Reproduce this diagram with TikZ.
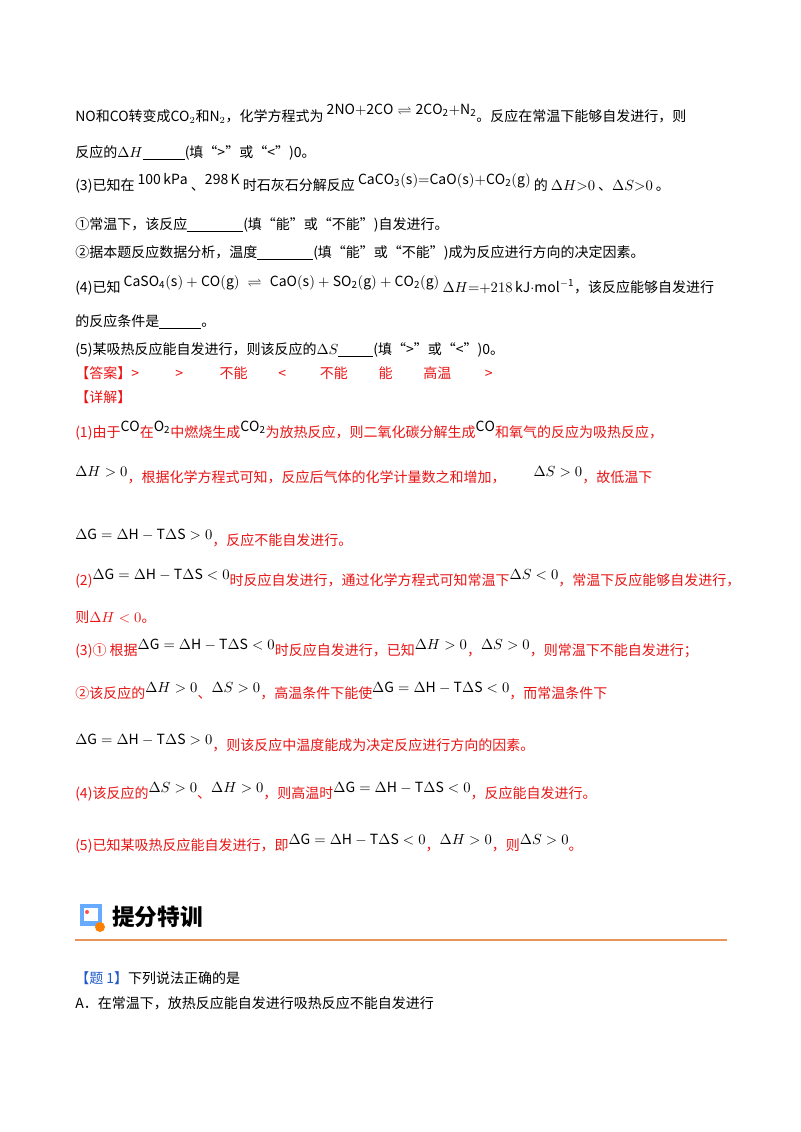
\documentclass[tikz,border=0pt]{standalone}
\usepackage{amsmath,amssymb}
\usepackage{fontspec}
\setmainfont{Noto Sans CJK SC}
\definecolor{ans}{RGB}{232,20,20}
\definecolor{hl}{RGB}{230,150,90}
\definecolor{tb}{RGB}{30,90,200}
\begin{document}
\begin{tikzpicture}[x=0.75pt,y=-0.75pt,
  t/.style={anchor=base west,inner sep=0pt,font=\fontsize{10.5}{12}\selectfont},
  r/.style={t,text=ans}]
\useasboundingbox (0,0) rectangle (800,1132);
\node[t] (l1) at (75,121) {NO和CO转变成CO$_2$和N$_2$，化学方程式为 \raisebox{5pt}{$\mathrm{2NO{+}2CO}\rightleftharpoons\mathrm{2CO_2{+}N_2}$}。反应在常温下能够自发进行，则};
\node[t] (l2) at (75,157) {反应的$\Delta H$\underline{\hspace{3em}}(填“>”或“<”)0。};
\node[t] (l3) at (75,190) {(3)已知在 \raisebox{4pt}{$\mathrm{100\,kPa}$}\ 、\raisebox{4pt}{$\mathrm{298\,K}$} 时石灰石分解反应 \raisebox{4pt}{$\mathrm{CaCO_3(s){=}CaO(s){+}CO_2(g)}$} 的 $\Delta H{>}0$ 、$\Delta S{>}0$ 。};
\node[t] (l4) at (75,229) {①常温下，该反应\underline{\hspace{4em}}(填“能”或“不能”)自发进行。};
\node[t] (l5) at (75,257) {②据本题反应数据分析，温度\underline{\hspace{4em}}(填“能”或“不能”)成为反应进行方向的决定因素。};
\node[t] (l6) at (75,292) {(4)已知 \raisebox{4pt}{$\mathrm{CaSO_4(s)+CO(g)}\;\rightleftharpoons\;\mathrm{CaO(s)+SO_2(g)+CO_2(g)}$} $\Delta H{=}{+}218\,\mathrm{kJ{\cdot}mol^{-1}}$，该反应能够自发进行};
\node[t] (l7) at (75,326) {的反应条件是\underline{\hspace{3em}}。};
\node[t] (l8) at (75,354) {(5)某吸热反应能自发进行，则该反应的$\Delta S$\underline{\hspace{2.5em}}(填“>”或“<”)0。};
\node[r] (a0) at (75,378) {【答案】>\hspace{2.6em}>\hspace{2.6em}不能\hspace{2.2em}<\hspace{2.4em}不能\hspace{2.2em}能\hspace{2.2em}高温\hspace{2.4em}>};
\node[r] (a1) at (75,402) {【详解】};
\node[r] (b1) at (75,437) {(1)由于\raisebox{4pt}{\color{black}$\mathrm{CO}$}在\raisebox{4pt}{\color{black}$\mathrm{O_2}$}中燃烧生成\raisebox{4pt}{\color{black}$\mathrm{CO_2}$}为放热反应，则二氧化碳分解生成\raisebox{4pt}{\color{black}$\mathrm{CO}$}和氧气的反应为吸热反应，};
\node[r] (b2) at (75,482) {\raisebox{4pt}{\color{black}$\Delta H>0$}，根据化学方程式可知，反应后气体的化学计量数之和增加，\hspace{2em}\raisebox{4pt}{\color{black}$\Delta S>0$}，故低温下};
\node[r] (b3) at (75,545) {\raisebox{4pt}{\color{black}$\Delta\mathrm{G}=\Delta\mathrm{H}-\mathrm{T}\Delta\mathrm{S}>0$}，反应不能自发进行。};
\node[r] (b4) at (75,585) {(2)\raisebox{4pt}{\color{black}$\Delta\mathrm{G}=\Delta\mathrm{H}-\mathrm{T}\Delta\mathrm{S}<0$}时反应自发进行，通过化学方程式可知常温下\raisebox{4pt}{\color{black}$\Delta S<0$}，常温下反应能够自发进行，};
\node[r] (b5) at (75,622) {则$\Delta H<0$。};
\node[r] (b6) at (75,655) {(3)① 根据\raisebox{4pt}{\color{black}$\Delta\mathrm{G}=\Delta\mathrm{H}-\mathrm{T}\Delta\mathrm{S}<0$}时反应自发进行，已知\raisebox{4pt}{\color{black}$\Delta H>0$}，\raisebox{4pt}{\color{black}$\Delta S>0$}，则常温下不能自发进行；};
\node[r] (b7) at (75,698) {②该反应的\raisebox{4pt}{\color{black}$\Delta H>0$}、\raisebox{4pt}{\color{black}$\Delta S>0$}，高温条件下能使\raisebox{4pt}{\color{black}$\Delta\mathrm{G}=\Delta\mathrm{H}-\mathrm{T}\Delta\mathrm{S}<0$}，而常温条件下};
\node[r] (b8) at (75,750) {\raisebox{4pt}{\color{black}$\Delta\mathrm{G}=\Delta\mathrm{H}-\mathrm{T}\Delta\mathrm{S}>0$}，则该反应中温度能成为决定反应进行方向的因素。};
\node[r] (b9) at (75,798) {(4)该反应的\raisebox{4pt}{\color{black}$\Delta S>0$}、\raisebox{4pt}{\color{black}$\Delta H>0$}，则高温时\raisebox{4pt}{\color{black}$\Delta\mathrm{G}=\Delta\mathrm{H}-\mathrm{T}\Delta\mathrm{S}<0$}，反应能自发进行。};
\node[r] (b10) at (75,850) {(5)已知某吸热反应能自发进行，即\raisebox{4pt}{\color{black}$\Delta\mathrm{G}=\Delta\mathrm{H}-\mathrm{T}\Delta\mathrm{S}<0$}，\raisebox{4pt}{\color{black}$\Delta H>0$}，则\raisebox{4pt}{\color{black}$\Delta S>0$}。};
% heading
\fill[blue!55!cyan!60] (80,904) rectangle (102,926);
\fill[white] (84,908) rectangle (98,921);
\fill[red!70] (87,912) circle (2);
\fill[orange] (100,927) circle (5);
\node[t,font=\fontsize{17}{20}\selectfont\bfseries] (h) at (112,925) {提分特训};
\draw[hl,line width=1.2pt] (75,940) -- (727,940);
\node[t] (q1) at (75,983) {{\color{tb}【题 1】}下列说法正确的是};
\node[t] (q2) at (75,1008) {A．在常温下，放热反应能自发进行吸热反应不能自发进行};
\end{tikzpicture}
\end{document}
